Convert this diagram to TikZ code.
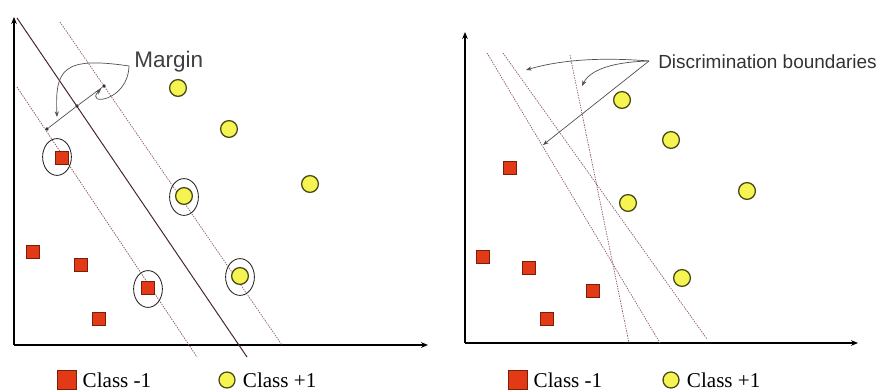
\documentclass[tikz,border=0pt]{standalone}
\usepackage{fontspec}
\setmainfont{Liberation Serif}
\newfontfamily\labelfont{Liberation Sans}
\usepackage{tikz}
\usetikzlibrary{shapes.geometric, positioning, arrows.meta, calc}
\definecolor{SVRed}{RGB}{226,58,22}
\definecolor{SVRedDark}{RGB}{120,30,10}
\definecolor{SVYellow}{RGB}{246,244,80}
\definecolor{SVOlive}{RGB}{70,70,20}
\definecolor{SVLine}{RGB}{120,60,70}
\definecolor{SVGray}{RGB}{80,80,80}

\begin{document}
\begin{tikzpicture}[
          x=0.025cm, y=-0.025cm,
          ptneg/.style={rectangle, draw=SVRedDark, fill=SVRed, line width=0.6pt,
                      minimum size=0.32cm, inner sep=0pt},
          ptpos/.style={circle, draw=SVOlive, fill=SVYellow, line width=0.9pt,
                      minimum size=0.42cm, inner sep=0pt},
          sv/.style={ellipse, draw=black!85, line width=0.6pt,
                     minimum width=0.72cm, minimum height=0.92cm, inner sep=0pt},
          hyp/.style={SVLine!85, line width=0.5pt, dash pattern=on 1pt off 0.8pt},
          mid/.style={SVLine!60!black, line width=0.7pt},
          ax/.style={line width=1.2pt, -{Stealth[length=5pt,width=4pt]}},
          ann/.style={SVGray, line width=0.5pt, -{Stealth[length=4pt,width=3pt]}},
          dot/.style={circle, fill=black!80, inner sep=0pt, minimum size=2.5pt},
          key/.style={font=\fontsize{15}{15}\selectfont, anchor=west, inner sep=0pt}
        ]
        \useasboundingbox (0,0) rectangle (882,392);

        % Left panel: maximum margin
        \coordinate (O1) at (14,345);
        \coordinate (Y1) at (14,17);
        \coordinate (X1) at (428,345);
        \draw[ax] (O1) -- (Y1);
        \draw[ax] (O1) -- (X1);

        \coordinate (a1) at (17,87);  \coordinate (a2) at (197,357);
        \coordinate (b1) at (17,18);  \coordinate (b2) at (247,357);
        \coordinate (c1) at (60,22);  \coordinate (c2) at (282,345);
        \draw[hyp] (a1) -- (a2);
        \draw[mid] (b1) -- (b2);
        \draw[hyp] (c1) -- (c2);

        \foreach \i/\x/\y in {
          L1/62/158, L2/33/252, L3/81/265, L4/148/288, L5/99/319} {
          \node[ptneg] (\i) at (\x, \y) {};
        }
        \foreach \i/\x/\y in {
          P1/178/88, P2/229/129, P3/310/184, P4/184/196, P5/240/276} {
          \node[ptpos] (\i) at (\x, \y) {};
        }
        \node[sv] (S1) at (57,157) {};
        \node[sv] (S2) at (148,289) {};
        \node[sv] (S3) at (184,197) {};
        \node[sv] (S4) at (240,277) {};

        % margin width
        \node[dot] (m1) at (47,129) {};
        \node[dot] (m2) at (77,106) {};
        \node[dot] (m3) at (104,86) {};
        \draw[SVGray, line width=0.5pt] (m1) -- (m2) -- (m3);
        \node[font=\labelfont\fontsize{16}{16}\selectfont, text=black!75,
              anchor=west, inner sep=0pt] (margin) at (134,62) {Margin};
        \coordinate (mt) at (129,66);
        \draw[ann] (mt) .. controls (62,56) and (55,70) .. (57,117);
        \draw[ann] (mt) .. controls (128,102) and (84,106) .. (101,89);

        \node[ptneg, minimum size=0.47cm] (k1) at (67,380) {};
        \node[key, right=4pt of k1] (k1t) {Class -1};
        \node[ptpos, minimum size=0.4cm] (k2) at (227,380) {};
        \node[key, right=5pt of k2] (k2t) {Class +1};

        % Right panel: many discriminating boundaries
        \coordinate (O2) at (465,343);
        \coordinate (Y2) at (465,32);
        \coordinate (X2) at (858,343);
        \draw[ax] (O2) -- (Y2);
        \draw[ax] (O2) -- (X2);

        \coordinate (d1) at (487,53);  \coordinate (d2) at (660,343);
        \coordinate (e1) at (503,53);  \coordinate (e2) at (707,339);
        \coordinate (f1) at (570,55);  \coordinate (f2) at (629,343);
        \draw[hyp] (d1) -- (d2);
        \draw[hyp] (e1) -- (e2);
        \draw[hyp] (f1) -- (f2);

        \foreach \i/\x/\y in {
          R1/510/168, R2/483/257, R3/529/268, R4/593/291, R5/547/319} {
          \node[ptneg] (\i) at (\x, \y) {};
        }
        \foreach \i/\x/\y in {
          Q1/622/100, Q2/671/140, Q3/747/191, Q4/628/203, Q5/682/278} {
          \node[ptpos] (\i) at (\x, \y) {};
        }

        \node[font=\labelfont\fontsize{13.5}{14}\selectfont, text=black!80,
              anchor=west, inner sep=0pt] (disc) at (658,62) {Discrimination boundaries};
        \coordinate (dt) at (649,61);
        \draw[ann] (dt) .. controls (600,57) and (560,60) .. (526,70);
        \draw[ann] (dt) .. controls (612,62) and (590,70) .. (582,86);
        \draw[ann] (dt) -- (543,145);

        \node[ptneg, minimum size=0.47cm] (k3) at (518,380) {};
        \node[key, right=4pt of k3] (k3t) {Class -1};
        \node[ptpos, minimum size=0.4cm] (k4) at (671,380) {};
        \node[key, right=5pt of k4] (k4t) {Class +1};
      \end{tikzpicture}
\end{document}
